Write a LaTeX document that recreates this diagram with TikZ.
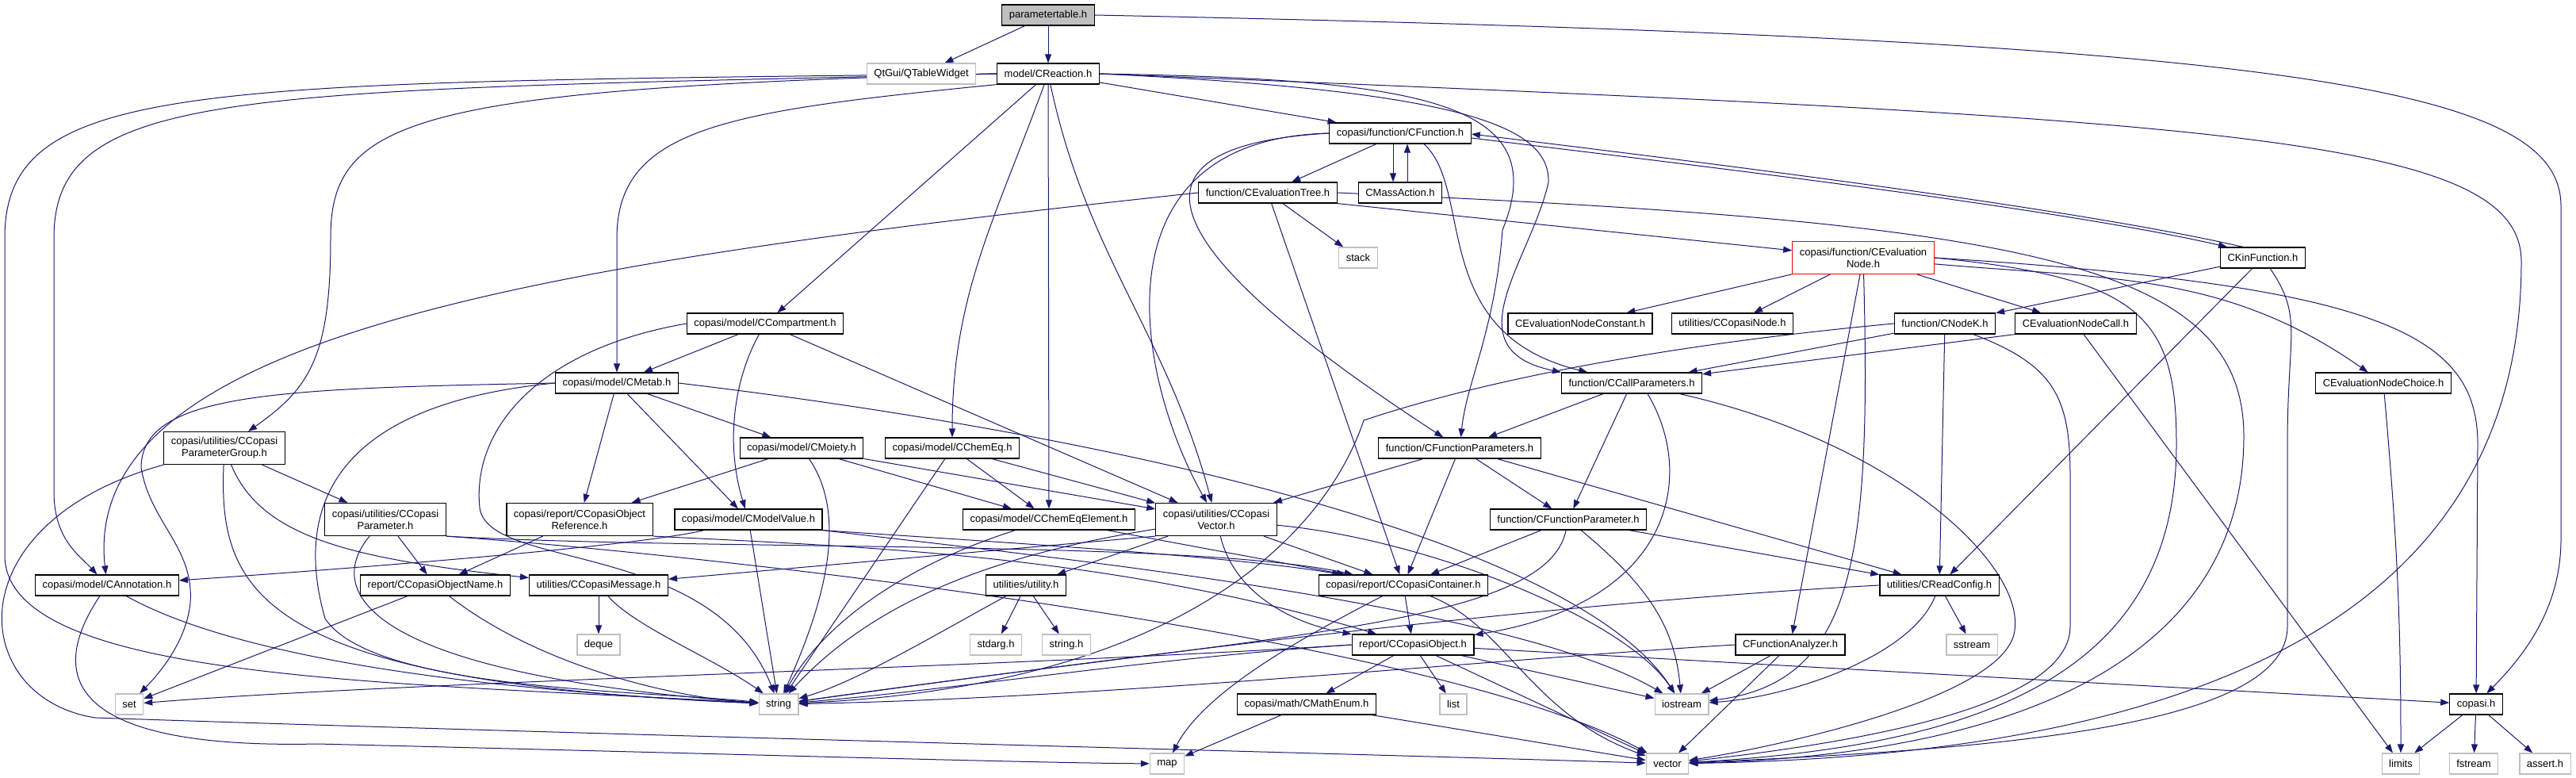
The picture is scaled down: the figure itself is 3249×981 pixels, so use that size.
\documentclass[tikz,border=0pt]{standalone}
\usepackage{fontspec}
\setmainfont{Liberation Sans}
\usetikzlibrary{arrows.meta}
\definecolor{depblue}{RGB}{25, 25, 112}
\definecolor{sysgray}{RGB}{191, 191, 191}
\definecolor{rootgray}{RGB}{191, 191, 191}
\pgfdeclarelayer{edges}
\pgfsetlayers{edges,main}

\begin{document}
\begin{tikzpicture}[x=1pt, y=1pt,
    hdr/.style={draw=black, fill=white, line width=1.2pt, font=\fontsize{13}{15}\selectfont, minimum height=26pt, inner xsep=9pt, inner ysep=2pt},
    syshdr/.style={hdr, draw=sysgray},
    roothdr/.style={hdr, fill=rootgray},
    twohdr/.style={hdr, align=center, minimum height=41pt},
    redhdr/.style={twohdr, draw=red},
    dep/.style={draw=depblue, line width=1pt, -{Triangle[length=11pt, width=8pt]}}
  ]
    \useasboundingbox (0,0) rectangle (3249,-981);
    % top
    \node[roothdr] (ptable) at (1322,-19) {parametertable.h};
    \node[syshdr] (qtable) at (1162,-93) {QtGui/QTableWidget};
    \node[hdr] (reaction) at (1322,-93) {model/CReaction.h};
    % function headers
    \node[hdr] (function) at (1766,-168) {copasi/function/CFunction.h};
    \node[hdr] (evaltree) at (1599,-243) {function/CEvaluationTree.h};
    \node[hdr] (massaction) at (1766,-243) {CMassAction.h};
    \node[syshdr] (stack) at (1713,-325) {stack};
    \node[redhdr] (evalnode) at (2350,-325) {copasi/function/CEvaluation\\Node.h};
    \node[hdr] (kinfunc) at (2854,-325) {CKinFunction.h};
    \node[hdr] (nodeconst) at (1993,-408) {CEvaluationNodeConstant.h};
    \node[hdr] (copasinode) at (2185,-408) {utilities/CCopasiNode.h};
    \node[hdr] (nodek) at (2453,-408) {function/CNodeK.h};
    \node[hdr] (nodecall) at (2618,-408) {CEvaluationNodeCall.h};
    \node[hdr] (callparams) at (2058,-483) {function/CCallParameters.h};
    \node[hdr] (nodechoice) at (3006,-483) {CEvaluationNodeChoice.h};
    \node[hdr] (funcparams) at (1841,-565) {function/CFunctionParameters.h};
    \node[hdr] (funcparam) at (1978,-655) {function/CFunctionParameter.h};
    % model headers
    \node[hdr] (compartment) at (965,-408) {copasi/model/CCompartment.h};
    \node[hdr] (metab) at (778,-483) {copasi/model/CMetab.h};
    \node[twohdr] (paramgroup) at (283,-565) {copasi/utilities/CCopasi\\ParameterGroup.h};
    \node[hdr] (moiety) at (1011,-565) {copasi/model/CMoiety.h};
    \node[hdr] (chemeq) at (1201,-565) {copasi/model/CChemEq.h};
    \node[twohdr] (param) at (486,-655) {copasi/utilities/CCopasi\\Parameter.h};
    \node[twohdr] (objref) at (731,-655) {copasi/report/CCopasiObject\\Reference.h};
    \node[hdr] (modelvalue) at (944,-655) {copasi/model/CModelValue.h};
    \node[hdr] (chemeqel) at (1323,-655) {copasi/model/CChemEqElement.h};
    \node[twohdr] (cvector) at (1534,-655) {copasi/utilities/CCopasi\\Vector.h};
    % report and utilities
    \node[hdr] (annotation) at (135,-738) {copasi/model/CAnnotation.h};
    \node[hdr] (objname) at (549,-738) {report/CCopasiObjectName.h};
    \node[hdr] (message) at (755,-738) {utilities/CCopasiMessage.h};
    \node[hdr] (utility) at (1294,-738) {utilities/utility.h};
    \node[hdr] (container) at (1770,-738) {copasi/report/CCopasiContainer.h};
    \node[hdr] (readconfig) at (2446,-738) {utilities/CReadConfig.h};
    \node[syshdr] (deque) at (755,-813) {deque};
    \node[syshdr] (stdarg) at (1256,-813) {stdarg.h};
    \node[syshdr] (stringh) at (1345,-813) {string.h};
    \node[hdr] (cobject) at (1782,-813) {report/CCopasiObject.h};
    \node[hdr] (analyzer) at (2258,-813) {CFunctionAnalyzer.h};
    \node[syshdr] (sstream) at (2487,-813) {sstream};
    % bottom rows
    \node[syshdr] (set) at (163,-888) {set};
    \node[syshdr] (string) at (982,-888) {string};
    \node[hdr] (mathenum) at (1648,-888) {copasi/math/CMathEnum.h};
    \node[syshdr] (list) at (1833,-888) {list};
    \node[syshdr] (iostream) at (2121,-888) {iostream};
    \node[hdr] (copasih) at (3123,-888) {copasi.h};
    \node[syshdr] (map) at (1472,-963) {map};
    \node[syshdr] (vector) at (2103,-963) {vector};
    \node[syshdr] (limits) at (3028,-963) {limits};
    \node[syshdr] (fstream) at (3120,-963) {fstream};
    \node[syshdr] (asserth) at (3210,-963) {assert.h};

    \begin{pgfonlayer}{edges}
    \fill[white] (0,0) rectangle (3249,-981);
    % parametertable.h
    \draw[dep] (ptable) -- (qtable);
    \draw[dep] (ptable) -- (reaction);
    \draw[dep] (ptable.east) .. controls (2900,-50) and (3230,-110) .. (3230,-260) -- (3230,-680) .. controls (3230,-770) and (3180,-830) .. (copasih);
    % model/CReaction.h
    \draw[dep] (reaction) -- (function);
    \draw[dep] (reaction) -- (compartment);
    \draw[dep] (reaction.south west) .. controls (920,-140) and (778,-160) .. (778,-300) -- (metab);
    \draw[dep] (reaction.west) .. controls (520,-112) and (417,-150) .. (417,-300) .. controls (417,-450) and (390,-490) .. (paramgroup);
    \draw[dep] (reaction.west) .. controls (300,-115) and (68,-110) .. (68,-300) -- (68,-620) .. controls (68,-680) and (100,-700) .. (annotation);
    \draw[dep] (reaction.west) .. controls (250,-105) and (6,-100) .. (6,-300) -- (6,-700) .. controls (6,-860) and (500,-860) .. (string);
    \draw[dep] (reaction) to[out=-110, in=90] (chemeq);
    \draw[dep] (reaction) -- (chemeqel);
    \draw[dep] (reaction) to[out=-78, in=105] (cvector);
    \draw[dep] (reaction.east) .. controls (1800,-100) and (1960,-130) .. (1895,-290) .. controls (1885,-420) and (1850,-480) .. (funcparams);
    \draw[dep] (reaction.east) .. controls (1850,-115) and (1955,-160) .. (1953,-230) .. controls (1930,-330) and (1830,-440) .. (callparams.north west);
    \draw[dep] (reaction.east) .. controls (2800,-150) and (3180,-170) .. (3180,-330) .. controls (3180,-700) and (2900,-950) .. (vector);
    % copasi/function/CFunction.h
    \draw[dep] (function) -- (evaltree);
    \draw[dep] ([xshift=-9pt]function.south) -- ([xshift=-9pt]massaction.north);
    \draw[dep] ([xshift=9pt]massaction.north) -- ([xshift=9pt]function.south);
    \draw[dep] ([yshift=-6pt]function.east) to[out=-7, in=167, looseness=0.6] ([xshift=-45pt]kinfunc.north);
    \draw[dep] ([xshift=-25pt]kinfunc.north) to[out=167, in=-7, looseness=0.6] ([yshift=-1pt]function.east);
    \draw[dep] ([xshift=30pt]function.south) .. controls (1860,-240) and (1800,-420) .. (callparams);
    \draw[dep] (function.west) .. controls (1380,-185) and (1480,-330) .. (funcparams);
    \draw[dep] (function.west) .. controls (1380,-175) and (1430,-470) .. (cvector);
    % function/CEvaluationTree.h
    \draw[dep] (evaltree) -- (stack);
    \draw[dep] (evaltree.south east) -- (evalnode);
    \draw[dep] (evaltree.west) .. controls (700,-330) and (100,-420) .. (annotation);
    \draw[dep] (evaltree) -- (container);
    \draw[dep] (evaltree.east) .. controls (2550,-280) and (2830,-330) .. (2830,-550) .. controls (2830,-800) and (2600,-950) .. (vector);
    % copasi/function/CEvaluationNode.h
    \draw[dep] (evalnode) -- (nodeconst);
    \draw[dep] (evalnode) -- (copasinode);
    \draw[dep] (evalnode) -- (nodecall);
    \draw[dep] (evalnode) to[out=-5, in=145] (nodechoice);
    \draw[dep] (evalnode.east) .. controls (3000,-360) and (3125,-420) .. (3125,-560) -- (copasih);
    \draw[dep] (evalnode.east) .. controls (2700,-350) and (2745,-400) .. (2745,-560) .. controls (2745,-850) and (2500,-940) .. (vector);
    \draw[dep] (evalnode) -- (analyzer);
    \draw[dep] (evalnode) .. controls (2360,-700) and (2340,-860) .. (iostream);
    % CKinFunction.h
    \draw[dep] (kinfunc) -- (nodek);
    \draw[dep] (kinfunc) -- (readconfig);
    \draw[dep] (kinfunc) .. controls (2905,-400) and (2885,-420) .. (2885,-560) -- (2885,-790) .. controls (2885,-920) and (2500,-945) .. (vector);
    % function/CNodeK.h
    \draw[dep] (nodek) -- (readconfig);
    \draw[dep] (nodek) -- (callparams);
    \draw[dep] (nodek) .. controls (2590,-460) and (2611,-500) .. (2611,-600) -- (2611,-790) .. controls (2611,-880) and (2400,-930) .. (vector);
    \draw[dep] (nodek.west) .. controls (2150,-430) and (1900,-470) .. (1720,-530) .. controls (1690,-620) and (1560,-860) .. (string);
    % CEvaluationNodeCall.h, CEvaluationNodeChoice.h
    \draw[dep] (nodecall.south west) -- (callparams);
    \draw[dep] (nodecall) -- (limits);
    \draw[dep] (nodechoice) to[out=-85, in=90] (limits);
    % function/CCallParameters.h
    \draw[dep] (callparams) -- (funcparams);
    \draw[dep] (callparams) -- (funcparam);
    \draw[dep] ([xshift=20pt]callparams.south) .. controls (2140,-600) and (2110,-760) .. (cobject);
    \draw[dep] (callparams) .. controls (2400,-560) and (2560,-720) .. (2540,-800) .. controls (2520,-880) and (2250,-940) .. (vector);
    % copasi/model/CCompartment.h
    \draw[dep] (compartment) -- (metab);
    \draw[dep] (compartment) .. controls (925,-480) and (915,-560) .. (modelvalue);
    \draw[dep] (compartment) -- (cvector);
    \draw[dep] (compartment.west) .. controls (680,-440) and (595,-540) .. (605,-640) .. controls (615,-720) and (900,-680) .. (string);
    % copasi/model/CMetab.h
    \draw[dep] (metab) -- (moiety);
    \draw[dep] (metab) -- (modelvalue);
    \draw[dep] (metab) -- (objref);
    \draw[dep] (metab.west) .. controls (350,-490) and (178,-495) .. (178,-590) .. controls (190,-660) and (245,-690) .. (240,-760) .. controls (235,-810) and (200,-850) .. (set);
    \draw[dep] (metab.west) .. controls (420,-510) and (370,-640) .. (410,-780) .. controls (470,-870) and (800,-870) .. (string);
    \draw[dep] (metab.east) .. controls (1500,-560) and (2000,-700) .. (iostream);
    % copasi/model/CMoiety.h
    \draw[dep] (moiety) -- (objref);
    \draw[dep] (moiety) .. controls (1070,-650) and (1040,-760) .. (string);
    \draw[dep] (moiety) -- (chemeqel);
    \draw[dep] (moiety) -- (cvector);
    % copasi/model/CChemEq.h
    \draw[dep] (chemeq) -- (string);
    \draw[dep] (chemeq) -- (chemeqel);
    \draw[dep] (chemeq) -- (cvector);
    % copasi/model/CModelValue.h
    \draw[dep] (modelvalue) .. controls (800,-690) and (400,-720) .. (annotation);
    \draw[dep] (modelvalue) -- (string);
    \draw[dep] (modelvalue.south east) .. controls (1200,-680) and (1550,-700) .. (container);
    \draw[dep] (modelvalue.south east) .. controls (1300,-700) and (1900,-760) .. (iostream);
    % copasi/model/CChemEqElement.h
    \draw[dep] (chemeqel) .. controls (1120,-720) and (1030,-800) .. (string);
    \draw[dep] (chemeqel) -- (container);
    % copasi/utilities/CCopasiParameterGroup.h
    \draw[dep] (paramgroup) -- (param);
    \draw[dep] (paramgroup) .. controls (275,-750) and (330,-860) .. (string);
    \draw[dep] (paramgroup) .. controls (330,-680) and (450,-705) .. (message);
    \draw[dep] (paramgroup.south west) .. controls (-60,-660) and (-40,-880) .. (120,-905) .. controls (700,-925) and (1700,-950) .. (vector);
    % copasi/utilities/CCopasiParameter.h
    \draw[dep] (param) -- (objname);
    \draw[dep] ([xshift=-20pt]param.south) .. controls (405,-750) and (470,-850) .. (string);
    \draw[dep] (param.south east) .. controls (900,-695) and (1500,-680) .. (container);
    \draw[dep] (param.south east) .. controls (900,-700) and (1800,-800) .. (vector);
    % copasi/report/CCopasiObjectReference.h
    \draw[dep] (objref) -- (objname);
    \draw[dep] (objref.south east) .. controls (1100,-690) and (1400,-700) .. (cobject);
    % copasi/model/CAnnotation.h
    \draw[dep] (annotation) .. controls (300,-830) and (600,-870) .. (string);
    \draw[dep] (annotation) .. controls (60,-850) and (80,-945) .. (400,-938) .. controls (900,-950) and (1300,-962) .. (map);
    % report/CCopasiObjectName.h
    \draw[dep] (objname) -- (set);
    \draw[dep] (objname) .. controls (680,-840) and (850,-880) .. (string);
    % utilities/CCopasiMessage.h
    \draw[dep] (message) -- (deque);
    \draw[dep] (message) .. controls (800,-790) and (900,-830) .. (string);
    % utilities/utility.h
    \draw[dep] (utility) -- (stdarg);
    \draw[dep] (utility) -- (stringh);
    \draw[dep] (utility) .. controls (1180,-800) and (1080,-860) .. (string);
    % copasi/utilities/CCopasiVector.h
    \draw[dep] (cvector.south west) -- (message);
    \draw[dep] (cvector) -- (utility);
    \draw[dep] (cvector) .. controls (1250,-700) and (1100,-760) .. (string);
    \draw[dep] (cvector) -- (container);
    \draw[dep] (cvector) .. controls (1560,-760) and (1650,-790) .. (cobject);
    \draw[dep] (cvector) .. controls (1800,-680) and (2050,-780) .. (iostream);
    % function/CFunctionParameters.h
    \draw[dep] (funcparams) -- (cvector);
    \draw[dep] (funcparams) -- (container);
    \draw[dep] (funcparams) -- (funcparam);
    \draw[dep] (funcparams) -- (readconfig);
    % function/CFunctionParameter.h
    \draw[dep] (funcparam) -- (container);
    \draw[dep] (funcparam) -- (readconfig);
    \draw[dep] (funcparam) to[out=-40, in=95] (iostream);
    \draw[dep] (funcparam) .. controls (1950,-790) and (1600,-800) .. (string);
    % copasi/report/CCopasiContainer.h
    \draw[dep] (container) -- (cobject);
    \draw[dep] (container) .. controls (1650,-800) and (1520,-870) .. (map);
    \draw[dep] (container) .. controls (1900,-790) and (1930,-900) .. (vector);
    % report/CCopasiObject.h
    \draw[dep] (cobject) -- (mathenum);
    \draw[dep] (cobject) -- (list);
    \draw[dep] (cobject) -- (iostream);
    \draw[dep] (cobject) -- (vector);
    \draw[dep] (cobject.west) .. controls (1450,-830) and (1200,-870) .. (string);
    \draw[dep] (cobject.west) .. controls (1300,-840) and (500,-860) .. (set);
    \draw[dep] (cobject) -- (copasih);
    % CFunctionAnalyzer.h
    \draw[dep] (analyzer) -- (iostream);
    \draw[dep] (analyzer) -- (vector);
    \draw[dep] (analyzer.west) .. controls (1900,-830) and (1400,-880) .. (string);
    % utilities/CReadConfig.h
    \draw[dep] (readconfig) -- (sstream);
    \draw[dep] (readconfig) .. controls (2410,-830) and (2250,-880) .. (iostream);
    \draw[dep] (readconfig.west) .. controls (1950,-760) and (1400,-830) .. (string);
    % copasi/math/CMathEnum.h
    \draw[dep] (mathenum) -- (map);
    \draw[dep] (mathenum) -- (vector);
    % copasi.h
    \draw[dep] (copasih) -- (limits);
    \draw[dep] (copasih) -- (fstream);
    \draw[dep] (copasih) -- (asserth);
    \end{pgfonlayer}
\end{tikzpicture}
\end{document}
